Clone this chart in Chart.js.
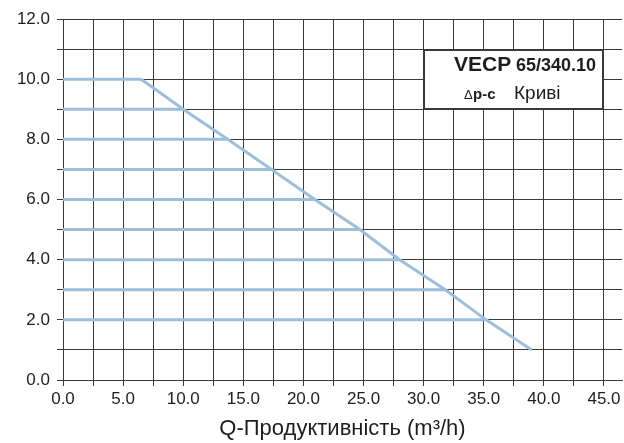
<!DOCTYPE html>
<html>
<head>
<meta charset="utf-8">
<script src="https://cdn.jsdelivr.net/npm/chart.js@4/dist/chart.umd.min.js"></script>
<style>
  html, body { margin: 0; padding: 0; background: #ffffff; }
  #wrap { width: 624px; height: 443px; position: relative; }
</style>
</head>
<body>
<div id="wrap"><canvas id="curveChart"></canvas></div>
<script>
// head levels (m) and flow where each level meets the max curve (m3/h)
const headLevels = [10, 9, 8, 7, 6, 5, 4, 3, 2, 1];
const maxCurveFlow = [6.5, 10.0, 13.7, 17.35, 20.95, 24.7, 28.0, 31.8, 35.2, 39.0];
// constant-pressure lines run from zero flow up to the max curve (1 m has none)
const constLevels = [10, 9, 8, 7, 6, 5, 4, 3, 2];

const xTickLabels = ['0.0', '5.0', '10.0', '15.0', '20.0', '25.0', '30.0', '35.0', '40.0', '45.0'];
const yTickLabels = ['0.0', '2.0', '4.0', '6.0', '8.0', '10.0', '12.0'];

const titleMain = 'VECP';
const titleModel = '65/340.10';
const titleDelta = '\u0394';
const titleMode = 'p-c';
const titleCurves = 'Криві';

const lineColor = '#9dbfdc';
const gridColor = '#3a3a3a';
const textColor = '#1e1e1e';
const fontFamily = '"Liberation Sans", Arial, Helvetica, sans-serif';

const datasets = [];
constLevels.forEach(h => {
    const i = headLevels.indexOf(h);
    datasets.push({
        data: [{ x: 0, y: h }, { x: maxCurveFlow[i], y: h }],
        borderColor: lineColor,
        borderWidth: 3,
        pointRadius: 0,
        fill: false
    });
});
datasets.push({
    data: headLevels.map((h, i) => ({ x: maxCurveFlow[i], y: h })),
    borderColor: lineColor,
    borderWidth: 3,
    pointRadius: 0,
    fill: false
});

// pixel column/row chart.js uses for a 1px grid line
const gridPx = px => Math.round(px - 0.5);

// white label box sitting on the grid
const labelBox = {
    id: 'labelBox',
    afterDraw(chart) {
        const { ctx, scales: { x, y } } = chart;
        const left = gridPx(x.getPixelForValue(30));
        const right = gridPx(x.getPixelForValue(45));
        const top = gridPx(y.getPixelForValue(11));
        const bottom = gridPx(y.getPixelForValue(9));
        ctx.save();
        ctx.fillStyle = '#ffffff';
        ctx.fillRect(left + 1, top + 1, right - left - 1, bottom - top - 1);
        ctx.fillStyle = gridColor;
        ctx.fillRect(left, top, right - left + 1, 2);
        ctx.fillRect(left, bottom - 1, right - left + 1, 2);
        ctx.fillRect(left, top, 2, bottom - top + 1);
        ctx.fillRect(right - 1, top, 2, bottom - top + 1);

        ctx.fillStyle = textColor;
        ctx.textBaseline = 'alphabetic';
        ctx.textAlign = 'left';
        ctx.font = 'bold 21px ' + fontFamily;
        ctx.fillText(titleMain, left + 31, top + 22);
        ctx.font = 'bold 18px ' + fontFamily;
        ctx.fillText(titleModel, left + 93, top + 22);
        ctx.font = '13px ' + fontFamily;
        ctx.fillText(titleDelta, left + 41, top + 50);
        ctx.font = 'bold 15px ' + fontFamily;
        ctx.fillText(titleMode, left + 50, top + 50);
        ctx.font = '19px ' + fontFamily;
        ctx.fillText(titleCurves, left + 91, top + 50);
        ctx.restore();
    }
};

new Chart(document.getElementById('curveChart'), {
    type: 'line',
    data: { datasets: datasets },
    options: {
        responsive: true,
        maintainAspectRatio: false,
        animation: false,
        layout: { padding: { top: 19, right: 2, left: 0, bottom: 0 } },
        plugins: {
            legend: { display: false },
            tooltip: { enabled: false }
        },
        scales: {
            x: {
                type: 'linear',
                min: 0,
                max: 46.5,
                afterFit: s => { s.height = 63; },
                afterBuildTicks: s => {
                    s.ticks = [];
                    for (let v = 0; v <= 45; v += 2.5) s.ticks.push({ value: v });
                },
                grid: { color: gridColor, lineWidth: 1, tickLength: 6 },
                border: { color: gridColor, width: 1 },
                ticks: {
                    color: textColor,
                    font: { family: fontFamily, size: 17 },
                    padding: 3,
                    maxRotation: 0,
                    autoSkip: false,
                    callback: v => (v % 5 === 0 ? xTickLabels[v / 5] : '')
                },
                title: {
                    display: true,
                    text: 'Q-Продуктивність (m³/h)',
                    color: textColor,
                    font: { family: fontFamily, size: 22 },
                    padding: { top: 4, bottom: 1 }
                }
            },
            y: {
                type: 'linear',
                min: 0,
                max: 12,
                afterFit: s => { s.width = 63; },
                afterBuildTicks: s => {
                    s.ticks = [];
                    for (let v = 0; v <= 12; v += 1) s.ticks.push({ value: v });
                },
                grid: { color: gridColor, lineWidth: 1, tickLength: 6 },
                border: { color: gridColor, width: 1 },
                ticks: {
                    color: textColor,
                    font: { family: fontFamily, size: 17 },
                    padding: 7,
                    autoSkip: false,
                    callback: v => (v % 2 === 0 ? yTickLabels[v / 2] : '')
                }
            }
        }
    },
    plugins: [labelBox]
});
</script>
</body>
</html>
